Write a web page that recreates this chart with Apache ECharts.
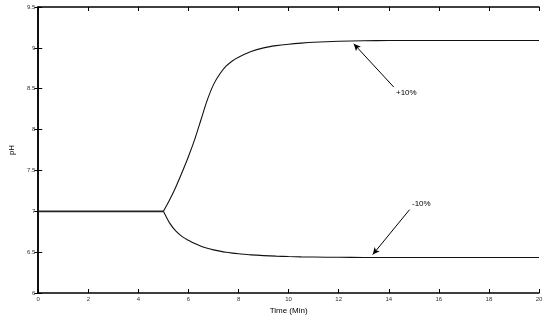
<!DOCTYPE html>
<html><head><meta charset="utf-8">
<script src="https://cdn.jsdelivr.net/npm/echarts@6/dist/echarts.min.js"></script>
<style>html,body{margin:0;padding:0;background:#fff}#c{width:548px;height:320px}</style>
</head><body><div id="c"></div>
<script>
var flatTimes = [0, 5];
var flatPh    = [7, 7];
var times   = [5, 5.25, 5.5, 5.75, 6, 6.25, 6.5, 6.75, 7, 7.25, 7.5, 7.75, 8, 8.5, 9, 9.5, 10, 10.5, 11, 12, 13, 14, 16, 18, 20];
var phPlus  = [7, 7.14, 7.3, 7.48, 7.67, 7.88, 8.12, 8.36, 8.55, 8.68, 8.775, 8.84, 8.885, 8.955, 9.0, 9.027, 9.045, 9.058, 9.068, 9.08, 9.087, 9.09, 9.09, 9.09, 9.09];
var phMinus = [7, 6.855, 6.757, 6.69, 6.645, 6.605, 6.573, 6.548, 6.528, 6.512, 6.498, 6.488, 6.48, 6.466, 6.457, 6.451, 6.446, 6.442, 6.44, 6.437, 6.435, 6.435, 6.435, 6.435, 6.435];
var xTicks = [0, 2, 4, 6, 8, 10, 12, 14, 16, 18, 20];
var yTicks = [6, 6.5, 7, 7.5, 8, 8.5, 9, 9.5];
var annPlus  = {text: '+10%', from: [14.2, 8.52], to: [12.6, 9.05], label: [14.7, 8.45]};
var annMinus = {text: '-10%', from: [14.83, 7.02], to: [13.36, 6.47], label: [15.3, 7.09]};

function pairs(xs, ys){ return xs.map(function(x,i){ return [x, ys[i]]; }); }
var font = 'Liberation Sans, Arial, sans-serif';
var axisLine = {show: true, lineStyle: {color: '#000', width: 1.5}};
var chart = echarts.init(document.getElementById('c'), null, {renderer: 'canvas'});
function annSeries(a){
  return {
    type: 'line', data: [], silent: true, xAxisIndex: 0, yAxisIndex: 0,
    markLine: {
      silent: true, symbol: ['none', 'arrow'], symbolSize: [5, 7],
      lineStyle: {color: '#000', width: 1, type: 'solid'}, label: {show: false},
      data: [[{coord: a.from}, {coord: a.to}]]
    },
    markPoint: {
      silent: true, symbol: 'circle', symbolSize: 0,
      label: {show: true, formatter: a.text, color: '#000', fontSize: 8, fontFamily: font},
      data: [{coord: a.label}]
    }
  };
}
chart.setOption({
  animation: false,
  grid: {left: 37, right: 9, top: 7, bottom: 27, containLabel: false},
  xAxis: [
    {type: 'value', min: 0, max: 20, interval: 2, name: 'Time (Min)', nameLocation: 'middle', nameGap: 14,
     nameTextStyle: {fontSize: 8, color: '#000', fontFamily: font},
     axisLine: axisLine, axisTick: {inside: true, length: 4, lineStyle: {color: '#000', width: 1}},
     axisLabel: {fontSize: 6, color: '#333', margin: 3, fontFamily: font,
       formatter: function(v){ return xTicks.indexOf(v) >= 0 ? String(v) : ''; }},
     splitLine: {show: false}},
    {type: 'value', min: 0, max: 20, interval: 2, position: 'top',
     axisLine: axisLine, axisTick: {inside: true, length: 4, lineStyle: {color: '#000', width: 1}},
     axisLabel: {show: false}, splitLine: {show: false}}
  ],
  yAxis: [
    {type: 'value', min: 6, max: 9.5, interval: 0.5, name: 'pH', nameLocation: 'middle', nameGap: 11,
     nameTextStyle: {fontSize: 8, color: '#000', fontFamily: font},
     axisLine: axisLine, axisTick: {inside: true, length: 4, lineStyle: {color: '#000', width: 1}},
     axisLabel: {fontSize: 6, color: '#333', margin: 3, fontFamily: font,
       formatter: function(v){ return yTicks.indexOf(v) >= 0 ? String(v) : ''; }},
     splitLine: {show: false}},
    {type: 'value', min: 6, max: 9.5, interval: 0.5, position: 'right',
     axisLine: axisLine, axisTick: {inside: true, length: 4, lineStyle: {color: '#000', width: 1}},
     axisLabel: {show: false}, splitLine: {show: false}}
  ],
  series: [
    {type: 'line', name: 'base', data: pairs(flatTimes, flatPh), showSymbol: false,
     lineStyle: {color: '#222', width: 1.8}, xAxisIndex: 0, yAxisIndex: 0},
    {type: 'line', name: '+10%', data: pairs(times, phPlus), showSymbol: false, smooth: 0.3,
     lineStyle: {color: '#111', width: 1.1}, xAxisIndex: 0, yAxisIndex: 0},
    {type: 'line', name: '-10%', data: pairs(times, phMinus), showSymbol: false, smooth: 0.3,
     lineStyle: {color: '#111', width: 1.1}, xAxisIndex: 0, yAxisIndex: 0},
    annSeries(annPlus),
    annSeries(annMinus)
  ]
});
</script></body></html>
